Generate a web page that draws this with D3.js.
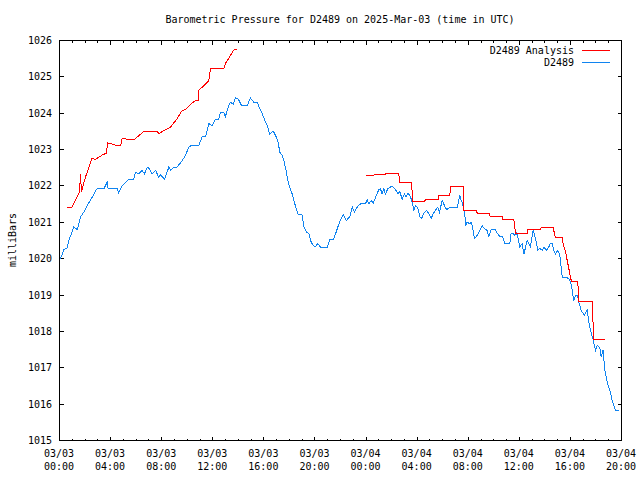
<!DOCTYPE html>
<html>
<head>
<meta charset="utf-8">
<script src="https://cdn.jsdelivr.net/npm/d3@7/dist/d3.min.js"></script>
<style>
html,body{margin:0;padding:0;background:#fff;}
svg text{font-family:"DejaVu Sans Mono",monospace;font-size:10px;fill:#000;}
</style>
</head>
<body>
<svg id="chart" width="640" height="480"></svg>
<script>
// ---- data (hours since 2025-03-03 00:00 UTC, millibars) ----
const titleText = "Barometric Pressure for D2489 on 2025-Mar-03 (time in UTC)";
const yLabel = "milliBars";
const seriesNames = ["D2489 Analysis", "D2489"];
const yTicks = [1015,1016,1017,1018,1019,1020,1021,1022,1023,1024,1025,1026];

const obsHours = [0.08,0.34,0.60,0.73,0.86,1.12,1.39,1.64,1.90,2.17,2.56,2.82,2.95,3.47,3.73,3.81,4.52,4.64,4.91,5.43,5.82,5.95,6.21,6.47,6.65,6.87,6.97,7.26,7.52,7.77,7.91,8.24,8.56,8.69,8.95,9.21,9.61,9.86,10.12,10.26,10.88,11.17,11.43,11.69,11.95,12.21,12.47,12.60,12.86,12.99,13.25,13.39,13.60,13.78,14.01,14.25,14.70,14.95,15.21,15.48,15.68,15.87,16.13,16.26,16.46,16.73,16.91,17.09,17.25,17.44,17.56,17.77,17.87,18.03,18.22,18.34,18.48,18.66,19.00,19.13,19.34,19.52,19.65,19.78,19.99,20.22,20.43,20.96,21.16,21.43,21.61,21.79,22.00,22.21,22.47,22.73,22.92,23.10,23.31,23.57,23.96,24.09,24.22,24.40,24.56,24.74,25.00,25.13,25.26,25.39,25.52,25.70,26.05,26.31,26.49,26.64,26.83,27.01,27.14,27.30,27.48,27.61,27.74,27.87,28.05,28.21,28.34,28.52,28.73,28.91,29.10,29.26,29.44,29.62,29.75,29.96,30.14,30.30,30.61,31.14,31.26,31.34,31.45,31.53,31.61,31.71,31.81,31.87,31.97,32.10,32.26,32.36,32.49,32.70,32.91,33.09,33.27,33.48,33.61,33.80,34.13,34.27,34.47,34.68,34.86,35.25,35.36,35.52,35.62,35.78,35.88,36.04,36.22,36.35,36.48,36.62,36.74,36.87,37.09,37.27,37.45,37.60,37.79,37.92,38.13,38.31,38.44,38.57,38.70,38.83,39.01,39.17,39.36,39.70,39.95,40.08,40.26,40.40,40.55,40.66,40.84,41.10,41.31,41.44,41.63,41.78,41.96,42.10,42.30,42.41,42.57,42.67,42.88,43.09,43.27,43.53,43.79];
const obsValues = [1020.00,1020.25,1020.30,1020.50,1020.62,1020.87,1020.80,1021.14,1021.28,1021.46,1021.69,1021.87,1021.92,1021.92,1022.10,1021.92,1021.92,1021.81,1022.01,1022.19,1022.19,1022.38,1022.33,1022.43,1022.33,1022.52,1022.50,1022.33,1022.43,1022.24,1022.30,1022.19,1022.52,1022.43,1022.52,1022.52,1022.70,1022.84,1023.07,1023.10,1023.10,1023.35,1023.35,1023.72,1023.65,1023.83,1023.83,1024.03,1024.03,1023.91,1024.21,1024.30,1024.25,1024.42,1024.38,1024.21,1024.21,1024.42,1024.30,1024.30,1024.13,1023.99,1023.76,1023.66,1023.43,1023.51,1023.39,1023.25,1022.93,1022.84,1022.70,1022.38,1022.15,1021.95,1021.78,1021.60,1021.44,1021.23,1021.20,1020.87,1020.73,1020.70,1020.50,1020.41,1020.32,1020.41,1020.32,1020.32,1020.52,1020.52,1020.68,1020.87,1021.07,1021.21,1021.05,1021.16,1021.42,1021.28,1021.42,1021.51,1021.51,1021.62,1021.51,1021.60,1021.53,1021.68,1021.90,1021.92,1021.78,1021.92,1021.78,1021.92,1022.00,1021.90,1021.78,1021.84,1021.64,1021.78,1021.70,1021.80,1021.70,1021.56,1021.33,1021.46,1021.40,1021.15,1021.10,1021.24,1021.33,1021.24,1021.10,1021.24,1021.33,1021.42,1021.28,1021.60,1021.46,1021.35,1021.42,1021.42,1021.60,1021.74,1021.60,1021.55,1021.42,1021.28,1020.91,1021.00,1021.00,1020.96,1021.00,1020.82,1020.55,1020.64,1020.78,1020.91,1020.82,1020.78,1020.61,1020.80,1020.80,1020.70,1020.61,1020.61,1020.41,1020.41,1020.70,1020.70,1020.64,1020.70,1020.61,1020.32,1020.41,1020.12,1020.30,1020.50,1020.41,1020.32,1020.80,1020.55,1020.23,1020.28,1020.23,1020.32,1020.23,1020.32,1020.43,1020.43,1020.23,1020.12,1020.23,1020.10,1019.49,1019.49,1019.42,1019.26,1018.85,1018.99,1018.99,1018.80,1018.58,1018.44,1018.60,1018.26,1017.95,1017.77,1017.48,1017.61,1017.55,1017.29,1017.50,1016.97,1016.60,1016.38,1016.10,1015.83,1015.81];

// analysis series: null marks the gap between the two runs
const anaHours = [0.60,0.94,1.57,1.64,1.72,1.82,2.04,2.29,2.56,2.76,3.13,3.34,3.66,3.78,4.13,4.52,4.78,4.91,5.38,5.82,6.21,6.60,7.65,7.77,8.17,8.69,9.21,9.61,9.86,10.39,10.65,10.86,10.91,11.30,11.69,11.82,12.86,13.00,13.39,13.65,13.91,null,23.96,24.61,24.69,25.52,25.55,26.56,26.64,27.56,27.66,28.60,28.65,29.65,29.70,30.56,30.61,31.61,31.65,32.65,32.70,33.66,33.71,34.66,34.71,35.57,35.70,36.62,36.66,37.66,37.71,38.65,38.83,39.36,39.43,39.62,39.75,39.88,40.01,40.09,40.58,40.66,41.70,41.83,42.69];
const anaValues = [1021.40,1021.40,1021.84,1022.32,1021.84,1021.98,1022.25,1022.50,1022.77,1022.72,1022.80,1022.85,1022.90,1023.18,1023.15,1023.10,1023.10,1023.32,1023.27,1023.27,1023.38,1023.50,1023.50,1023.44,1023.52,1023.62,1023.85,1024.08,1024.10,1024.28,1024.35,1024.35,1024.63,1024.76,1024.90,1025.22,1025.22,1025.37,1025.59,1025.74,1025.74,null,1022.29,1022.29,1022.32,1022.32,1022.34,1022.34,1022.09,1022.09,1021.58,1021.58,1021.64,1021.64,1021.74,1021.74,1021.99,1021.99,1021.33,1021.33,1021.25,1021.25,1021.16,1021.16,1021.08,1021.08,1020.70,1020.70,1020.80,1020.80,1020.85,1020.85,1020.57,1020.57,1020.41,1020.18,1019.95,1019.72,1019.49,1019.36,1019.36,1018.82,1018.82,1017.77,1017.77];

const colors = ["#ff0000", "#1084f0"];

// ---- layout ----
const svg = d3.select("#chart");
const L = 59, R = 621, T = 40, B = 440;
const t0 = Date.UTC(2025, 2, 3, 0, 0);
const toDate = h => new Date(t0 + h * 3600000);

const x = d3.scaleUtc().domain([toDate(0), toDate(44)]).range([L, R]);
const y = d3.scaleLinear().domain([1015, 1026]).range([B, T]);

const g = svg.append("g").attr("transform", "translate(0.5,0.5)");

// frame
g.append("rect").attr("x", L).attr("y", T).attr("width", R - L).attr("height", B - T)
  .attr("fill", "none").attr("stroke", "#000").attr("shape-rendering", "crispEdges");

// x ticks
const majorX = x.ticks(d3.utcHour.every(4));
const minorX = x.ticks(d3.utcHour.every(1)).filter(d => d.getUTCHours() % 4 !== 0);
const tickG = g.append("g").attr("stroke", "#000").attr("shape-rendering", "crispEdges");
majorX.forEach(d => {
  const px = Math.round(x(d));
  tickG.append("line").attr("x1", px).attr("x2", px).attr("y1", B).attr("y2", B - 4);
  tickG.append("line").attr("x1", px).attr("x2", px).attr("y1", T).attr("y2", T + 4);
});
minorX.forEach(d => {
  const px = Math.round(x(d));
  tickG.append("line").attr("x1", px).attr("x2", px).attr("y1", B).attr("y2", B - 2);
  tickG.append("line").attr("x1", px).attr("x2", px).attr("y1", T).attr("y2", T + 2);
});
yTicks.forEach(v => {
  const py = Math.round(y(v));
  tickG.append("line").attr("x1", L).attr("x2", L + 4).attr("y1", py).attr("y2", py);
  tickG.append("line").attr("x1", R).attr("x2", R - 4).attr("y1", py).attr("y2", py);
});

// x labels
const fDay = d3.utcFormat("%m/%d"), fTime = d3.utcFormat("%H:%M");
majorX.forEach(d => {
  const px = x(d);
  svg.append("text").attr("x", px).attr("y", 457).attr("text-anchor", "middle").text(fDay(d));
  svg.append("text").attr("x", px).attr("y", 470).attr("text-anchor", "middle").text(fTime(d));
});
// y labels
yTicks.forEach(v => {
  svg.append("text").attr("x", 52).attr("y", y(v) + 4).attr("text-anchor", "end").text(v);
});

// title & y label
svg.append("text").attr("x", 340).attr("y", 23).attr("text-anchor", "middle").text(titleText);
svg.append("text").attr("transform", "translate(16,240) rotate(-90)").attr("text-anchor", "middle").text(yLabel);

// lines
const obs = obsHours.map((h, i) => ({ t: toDate(h), v: obsValues[i] }));
const ana = anaHours.map((h, i) => ({ t: h === null ? null : toDate(h), v: anaValues[i] }));
const line = d3.line().defined(d => d.v !== null).x(d => x(d.t)).y(d => y(d.v));

g.append("path").datum(obs).attr("d", line).attr("fill", "none")
  .attr("stroke", colors[1]).attr("stroke-width", 1).attr("shape-rendering", "crispEdges");
g.append("path").datum(ana).attr("d", line).attr("fill", "none")
  .attr("stroke", colors[0]).attr("stroke-width", 1).attr("shape-rendering", "crispEdges");

// legend
seriesNames.forEach((name, i) => {
  const ly = 50 + i * 12;
  svg.append("text").attr("x", 574).attr("y", ly + 4).attr("text-anchor", "end").text(name);
  g.append("line").attr("x1", 581).attr("x2", 609).attr("y1", ly).attr("y2", ly)
    .attr("stroke", colors[i]).attr("stroke-width", 1).attr("shape-rendering", "crispEdges");
});
</script>
</body>
</html>
